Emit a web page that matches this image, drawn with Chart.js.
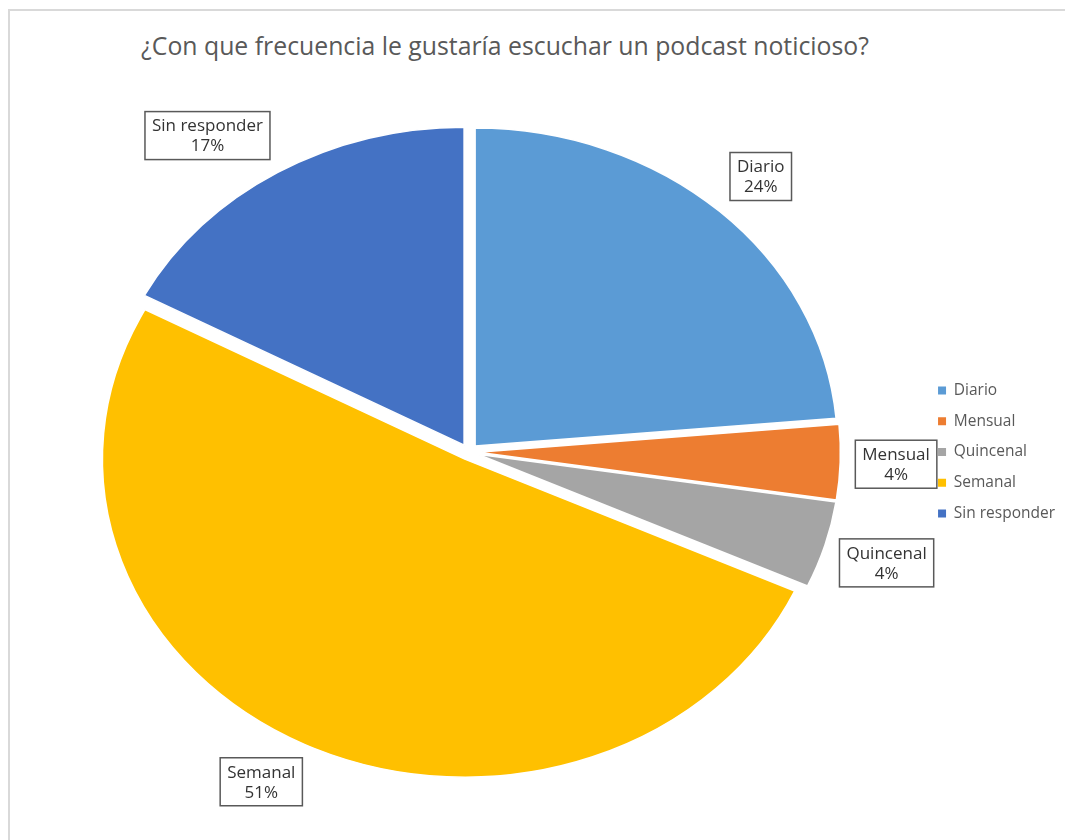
<!DOCTYPE html>
<html>
<head>
<meta charset="utf-8">
<script src="https://cdn.jsdelivr.net/npm/chart.js@4/dist/chart.umd.min.js"></script>
<style>
  body { margin: 0; background: #fff; overflow: hidden; }
  #wrap { position: relative; width: 1065px; height: 840px; }
  #frame { position: absolute; left: 8px; top: 9px; right: -4px; bottom: -4px;
           border-top: 2px solid #d9d9d9; border-left: 2px solid #d9d9d9; }
  #title { position: absolute; left: 0; top: 30px; width: 1010px; text-align: center;
           font: 24.8px "Open Sans", sans-serif; line-height: 30px; color: #595959; }
  canvas { position: absolute; left: 0; top: 0; }
</style>
</head>
<body>
<div id="wrap">
  <div id="frame"></div>
  <div id="title">¿Con que frecuencia le gustaría escuchar un podcast noticioso?</div>
  <canvas id="pie" width="1065" height="840"></canvas>
</div>
<script>
// Data
const categories = ['Diario', 'Mensual', 'Quincenal', 'Semanal', 'Sin responder'];
const shares = [23.6, 3.8, 4.4, 51.0, 17.2];
const sliceColors = ['#5B9BD5', '#ED7D31', '#A5A5A5', '#FFC000', '#4472C4'];

const STRETCH_X = 1.14;   // the reference pie is a bit wider than tall
const EXPLODE = 8;        // px every slice is pulled out from the centre
const LABEL_GAP = 15;     // px between the slice edge and its label box
const FONT = '"Open Sans", sans-serif';

const total = shares.reduce((a, b) => a + b, 0);

function pieCentre(chart) {
  const a = chart.chartArea;
  return { x: (a.left + a.right) / 2, y: (a.top + a.bottom) / 2 };
}

/**
 * Explode slices: move each arc's centre out along its mid angle
 * (Chart.js' own `offset` also grows the radius of some slices)
 */
const explodePlugin = {
  id: 'explode',
  afterDatasetUpdate(chart, args) {
    const c = pieCentre(chart);
    args.meta.data.forEach(arc => {
      const mid = (arc.startAngle + arc.endAngle) / 2;
      arc.x = c.x + Math.cos(mid) * EXPLODE;
      arc.y = c.y + Math.sin(mid) * EXPLODE;
    });
  }
};

/**
 * Stretch the pie horizontally around its centre
 */
const stretchPlugin = {
  id: 'stretch',
  beforeDatasetsDraw(chart) {
    const c = pieCentre(chart);
    const ctx = chart.ctx;
    ctx.save();
    ctx.translate(c.x, 0);
    ctx.scale(STRETCH_X, 1);
    ctx.translate(-c.x, 0);
  },
  afterDatasetsDraw(chart) {
    chart.ctx.restore();
  }
};

/**
 * Boxed data labels outside each slice (name + percent), Excel "outside end" style:
 * the box hangs off a point just past the slice's outer edge
 */
const boxLabels = {
  id: 'boxLabels',
  afterDraw(chart) {
    const ctx = chart.ctx;
    const c = pieCentre(chart);
    const meta = chart.getDatasetMeta(0);
    const clamp = v => Math.max(-1, Math.min(1, v));
    ctx.save();
    ctx.font = '17px ' + FONT;
    ctx.textAlign = 'center';
    ctx.textBaseline = 'middle';
    meta.data.forEach((arc, i) => {
      const mid = (arc.startAngle + arc.endAngle) / 2;
      const dx = Math.cos(mid), dy = Math.sin(mid);
      const r = arc.outerRadius + EXPLODE;
      const px = c.x + dx * (r * STRETCH_X + LABEL_GAP);
      const py = c.y + dy * (r + LABEL_GAP);

      const lines = [categories[i], Math.round(shares[i] / total * 100) + '%'];
      const w = Math.max(...lines.map(l => ctx.measureText(l).width)) + 14;
      const lh = 20;
      const h = lh * lines.length + 8;
      const x = px + clamp(dx * 2) * w / 2;
      const y = py + clamp(dy * 2) * h / 2;

      ctx.fillStyle = '#fff';
      ctx.fillRect(x - w / 2, y - h / 2, w, h);
      ctx.lineWidth = 1.5;
      ctx.strokeStyle = '#595959';
      ctx.strokeRect(x - w / 2, y - h / 2, w, h);

      ctx.fillStyle = '#333';
      lines.forEach((l, k) => ctx.fillText(l, x, y - h / 2 + 4 + lh * k + lh / 2 + 1));
    });
    ctx.restore();
  }
};

new Chart(document.getElementById('pie'), {
  type: 'pie',
  data: {
    labels: categories,
    datasets: [{
      data: shares,
      backgroundColor: sliceColors,
      borderColor: '#fff',
      borderWidth: 1.5,
      radius: 318
    }]
  },
  options: {
    responsive: false,
    animation: false,
    events: [],
    layout: { padding: { top: 64, left: 15, right: 0, bottom: 0 } },
    plugins: {
      title: { display: false },
      tooltip: { enabled: false },
      legend: {
        display: true,
        position: 'right',
        labels: {
          boxWidth: 8,
          boxHeight: 8,
          padding: 15.3,
          color: '#595959',
          font: { family: FONT, size: 15.5 },
          generateLabels(chart) {
            const items = Chart.overrides.pie.plugins.legend.labels.generateLabels(chart);
            items.forEach(it => { it.lineWidth = 0; it.strokeStyle = 'rgba(0,0,0,0)'; });
            return items;
          }
        }
      }
    }
  },
  plugins: [explodePlugin, stretchPlugin, boxLabels]
});
</script>
</body>
</html>
